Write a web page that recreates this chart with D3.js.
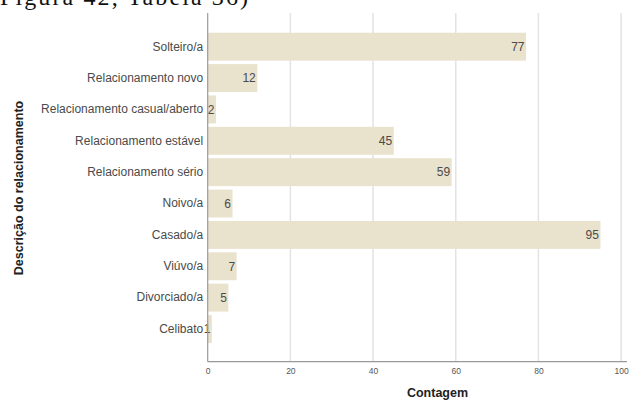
<!DOCTYPE html>
<html><head><meta charset="utf-8">
<script src="https://cdn.jsdelivr.net/npm/d3@7"></script>
<style>body{margin:0;background:#fff}svg{display:block}</style>
</head><body>
<svg id="c" width="638" height="401"></svg>
<script>
const categories = ["Solteiro/a","Relacionamento novo","Relacionamento casual/aberto","Relacionamento estável","Relacionamento sério","Noivo/a","Casado/a","Viúvo/a","Divorciado/a","Celibato"];
const counts = [77,12,2,45,59,6,95,7,5,1];
const xTicks = [0,20,40,60,80,100];
const xTitle = "Contagem";
const yTitle = "Descrição do relacionamento";
const caption = "Figura 42, Tabela 36)";

const svg = d3.select("#c");
const x0 = 207.7, x1 = 621.1, axisEnd = 627, plotTop = 13, plotBottom = 361.7;
const x = d3.scaleLinear().domain([0,100]).range([x0,x1]);
const y = d3.scaleBand().domain(categories).range([31,344.7]).paddingInner(0.11).paddingOuter(0.055);

svg.append("text").attr("x",0).attr("y",5)
  .attr("textLength",248).attr("lengthAdjust","spacing")
  .attr("font-family","Liberation Serif").attr("font-size",24).attr("fill","#111").text(caption);

// gridlines
svg.append("g").selectAll("line").data(xTicks.filter(d=>d>0)).join("line")
  .attr("x1",d=>x(d)).attr("x2",d=>x(d)).attr("y1",plotTop).attr("y2",plotBottom)
  .attr("stroke","#e3e3e3").attr("stroke-width",1.5);

// bars
svg.append("g").selectAll("rect").data(categories).join("rect")
  .attr("x",x(0)).attr("y",d=>y(d)).attr("height",y.bandwidth())
  .attr("width",(d,i)=>x(counts[i])-x(0)).attr("fill","#e9e2cd");

// value labels
svg.append("g").selectAll("text").data(categories).join("text")
  .attr("x",(d,i)=>x(counts[i])-1.5).attr("y",d=>y(d)+y.bandwidth()/2).attr("dy","0.36em")
  .attr("text-anchor","end").attr("font-family","Liberation Sans").attr("font-size",12)
  .attr("fill","#4a4a4a").text((d,i)=>counts[i]);

// y axis
const ya = svg.append("g").attr("transform",`translate(${x0},0)`).call(d3.axisLeft(y).tickSize(0).tickPadding(4.5));
ya.select(".domain").attr("d",`M0,${plotTop}V${plotBottom}`).attr("stroke","#999").attr("stroke-width",1.2);
ya.selectAll("text").attr("font-family","Liberation Sans").attr("font-size",12).attr("fill","#4a4a4a");

// x axis
const xa = svg.append("g").attr("transform",`translate(0,${plotBottom})`).call(d3.axisBottom(x).tickValues(xTicks).tickSize(0).tickPadding(6));
xa.select(".domain").attr("d",`M${x0},0H${axisEnd}`).attr("stroke","#999").attr("stroke-width",1.2);
xa.selectAll("text").attr("font-family","Liberation Sans").attr("font-size",8.5).attr("fill","#555");

svg.append("text").attr("x",437.5).attr("y",397).attr("text-anchor","middle")
  .attr("font-family","Liberation Sans").attr("font-weight","bold").attr("font-size",12.5).attr("fill","#222").text(xTitle);
svg.append("text").attr("transform",`translate(23,188) rotate(-90)`).attr("text-anchor","middle")
  .attr("font-family","Liberation Sans").attr("font-weight","bold").attr("font-size",12.5).attr("fill","#222").text(yTitle);
</script>
</body></html>
